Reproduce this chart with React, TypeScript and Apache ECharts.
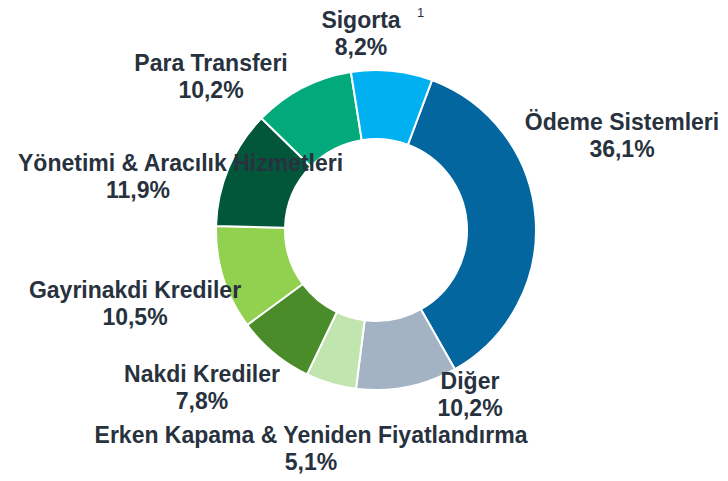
import React, { useEffect, useRef } from "react";
import * as echarts from "echarts";

const categories = [
  "Ödeme Sistemleri",
  "Diğer",
  "Erken Kapama & Yeniden Fiyatlandırma",
  "Nakdi Krediler",
  "Gayrinakdi Krediler",
  "Yönetimi & Aracılık Hizmetleri",
  "Para Transferi",
  "Sigorta",
];
const shares = [36.1, 10.2, 5.1, 7.8, 10.5, 11.9, 10.2, 8.2];
const footnoteMark = "1";

const sliceColors = [
  "#03669F",
  "#A3B3C4",
  "#C0E5AE",
  "#4A8B2A",
  "#92D050",
  "#02573B",
  "#02A97B",
  "#00B0F0",
];

// label anchor positions (px) for each slice label
const labelPos: { x: number; y: number; align: string }[] = [
  { x: 622, y: 134, align: "center" },
  { x: 470, y: 393, align: "center" },
  { x: 311, y: 447, align: "center" },
  { x: 202, y: 386, align: "center" },
  { x: 135, y: 302, align: "center" },
  { x: 18, y: 175, align: "left" },
  { x: 211, y: 75, align: "center" },
  { x: 361, y: 32, align: "center" },
];

const TEXT = "#28323E";
const FONT = "'Liberation Sans', Arial, sans-serif";

export default function App() {
  const ref = useRef<HTMLDivElement>(null);
  useEffect(() => {
    document.body.style.margin = "0";
    const chart = echarts.init(ref.current!, null, { renderer: "svg" });
    const fmt = (v: number) => v.toFixed(1).replace(".", ",") + "%";
    const base = {
      fontFamily: FONT,
      fontSize: 23,
      fontWeight: "bold",
      color: TEXT,
      lineHeight: 24,
    };
    chart.setOption({
      animation: false,
      backgroundColor: "#ffffff",
      textStyle: { fontFamily: FONT },
      graphic: [
        {
          type: "text",
          left: 417,
          top: 6,
          style: {
            text: footnoteMark,
            fill: TEXT,
            font: `13px ${FONT}`,
          },
        },
      ],
      series: [
        {
          type: "pie",
          center: [376, 230],
          radius: [91, 160],
          startAngle: 69.5,
          clockwise: true,
          avoidLabelOverlap: false,
          itemStyle: { borderColor: "#ffffff", borderWidth: 2 },
          labelLine: { show: false },
          label: {
            show: true,
            position: "outside",
            formatter: (p: any) =>
              p.dataIndex === 5
                ? `{a|${p.name}}\n{c|${fmt(p.value)}}`
                : `{a|${p.name}}\n{b|${fmt(p.value)}}`,
            rich: {
              a: { ...base },
              b: { ...base, padding: [6, 0, 0, 0] },
              c: { ...base, padding: [6, 0, 0, 88] },
            },
          },
          labelLayout: (params: any) => {
            const lp = labelPos[params.dataIndex];
            return {
              x: lp.x,
              y: lp.y,
              align: lp.align,
              verticalAlign: "middle",
              hideOverlap: false,
            };
          },
          data: categories.map((name, i) => ({
            name,
            value: shares[i],
            itemStyle: { color: sliceColors[i] },
          })),
        },
      ],
    });
    return () => chart.dispose();
  }, []);
  return <div ref={ref} style={{ width: 728, height: 481 }} />;
}
